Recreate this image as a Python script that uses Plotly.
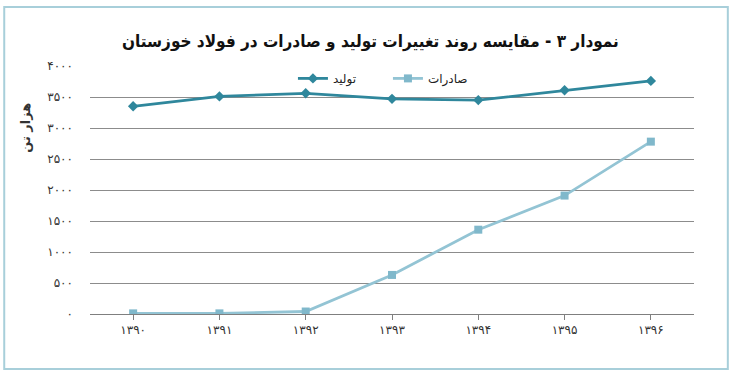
import plotly.graph_objects as go

years = ["۱۳۹۰", "۱۳۹۱", "۱۳۹۲", "۱۳۹۳", "۱۳۹۴", "۱۳۹۵", "۱۳۹۶"]
production = [3350, 3510, 3560, 3470, 3450, 3610, 3760]
exports = [10, 10, 40, 630, 1360, 1910, 2780]
ytick_vals = [0, 500, 1000, 1500, 2000, 2500, 3000, 3500, 4000]
ytick_text = ["۰", "۵۰۰", "۱۰۰۰", "۱۵۰۰", "۲۰۰۰", "۲۵۰۰", "۳۰۰۰", "۳۵۰۰", "۴۰۰۰"]

title_text = "نمودار ۳ - مقایسه روند تغییرات تولید و صادرات در فولاد خوزستان"
ytitle_text = "هزار تن"
name_prod = "تولید"
name_exp = "صادرات"

FONT = "DejaVu Sans"
TFONT = "DejaVu Sans Condensed, DejaVu Sans"
x_idx = list(range(len(years)))

fig = go.Figure()
fig.add_trace(go.Scatter(
    x=x_idx, y=production, name=name_prod, mode="lines+markers",
    line=dict(color="#2F879C", width=2.8),
    marker=dict(symbol="diamond", size=8, color="#2F879C"),
))
fig.add_trace(go.Scatter(
    x=x_idx, y=exports, name=name_exp, mode="lines+markers",
    line=dict(color="#93C4D4", width=2.8),
    marker=dict(symbol="square", size=8, color="#80B8CB"),
))

fig.update_layout(
    width=736, height=377,
    margin=dict(l=90, r=42, t=66, b=63),
    paper_bgcolor="white", plot_bgcolor="white",
    font=dict(family=FONT, size=12, color="#222222"),
    showlegend=True,
    legend=dict(orientation="h", x=0.336, y=0.95, xanchor="left", yanchor="middle",
                bgcolor="rgba(0,0,0,0)", font=dict(size=12, family=FONT),
                entrywidth=50, entrywidthmode="pixels", traceorder="normal"),
    xaxis=dict(
        range=[-0.5, 6.5], tickmode="array", tickvals=x_idx, ticktext=years,
        tickson="boundaries", ticks="outside", ticklen=5, tickcolor="#7f7f7f",
        showline=True, linecolor="#7f7f7f", linewidth=1, showgrid=False,
        zeroline=False, tickfont=dict(size=12, color="#333333"),
    ),
    yaxis=dict(
        range=[0, 4000], tickmode="array", tickvals=ytick_vals, ticktext=ytick_text,
        showgrid=True, gridcolor="#8c8c8c", gridwidth=1, zeroline=False,
        showline=False, ticks="", ticklabelstandoff=16,
        tickfont=dict(size=12, color="#333333"),
    ),
    annotations=[
        dict(text="<b>" + title_text + "</b>", xref="paper", yref="paper",
             x=0.4636, y=1.10, xanchor="center", yanchor="middle", showarrow=False,
             font=dict(size=17, family=TFONT, color="#111111")),
        dict(text="<b>" + ytitle_text + "</b>", xref="paper", yref="paper",
             x=-0.108, y=0.75, xanchor="center", yanchor="middle", showarrow=False,
             textangle=-90, font=dict(size=13, family=FONT, color="#333333")),
    ],
    shapes=[
        dict(type="rect", xref="paper", yref="paper", x0=-0.142, x1=1.056,
             y0=-0.222, y1=1.238, line=dict(color="#A8CFDA", width=2), layer="below"),
    ],
)

fig.write_html("out.html", config={"displayModeBar": False},
               post_script="document.body.style.margin='0px';")
